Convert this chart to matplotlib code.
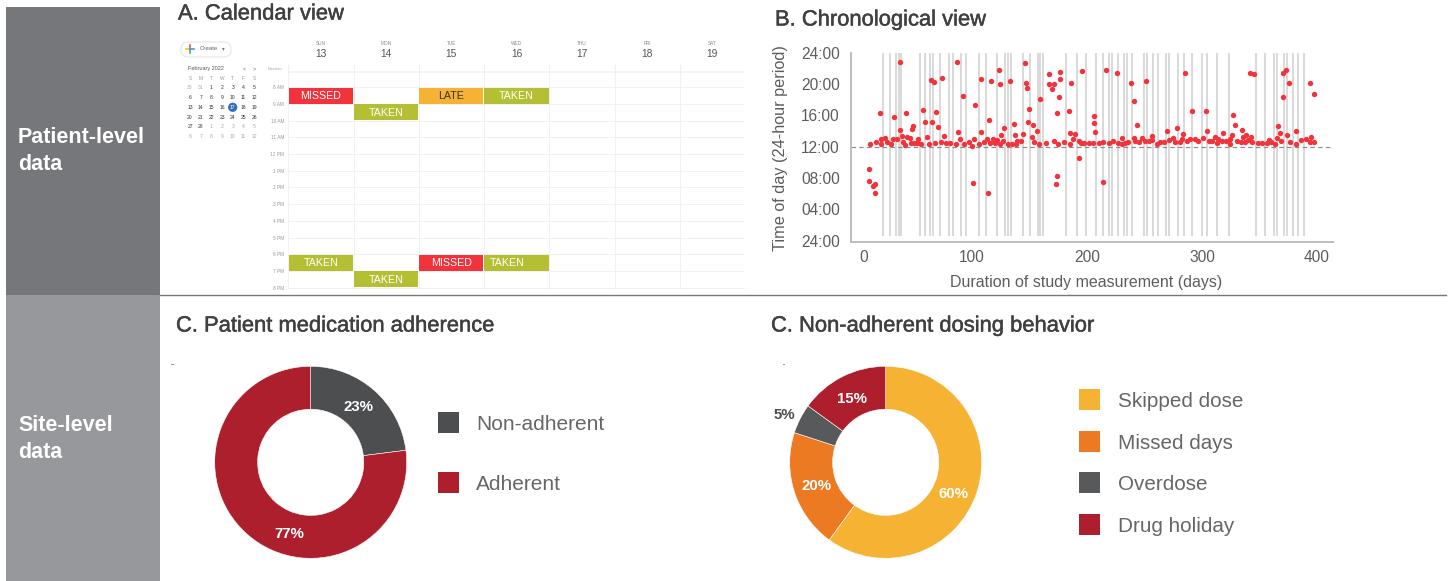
import matplotlib
matplotlib.use('Agg')
import matplotlib.pyplot as plt
import matplotlib.patheffects as pe
from matplotlib.patches import Rectangle, Circle, FancyBboxPatch
from matplotlib.transforms import ScaledTranslation

plt.rcParams['font.family'] = ['Liberation Sans', 'DejaVu Sans']

W, H = 1452, 581

# Calendar view
week_names = ['SUN', 'MON', 'TUE', 'WED', 'THU', 'FRI', 'SAT']
week_dates = [13, 14, 15, 16, 17, 18, 19]
hour_ticks = list(range(8, 21))
hour_names = ['8 AM', '9 AM', '10 AM', '11 AM', '12 PM', '1 PM', '2 PM', '3 PM',
              '4 PM', '5 PM', '6 PM', '7 PM', '8 PM']
event_day = [0, 1, 2, 3, 0, 1, 2, 3]
event_hour = [8, 9, 8, 8, 18, 19, 18, 18]
event_label = ['MISSED', 'TAKEN', 'LATE', 'TAKEN', 'TAKEN', 'TAKEN', 'MISSED', 'TAKEN']
event_status = ['missed', 'taken', 'late', 'taken', 'taken', 'taken', 'missed', 'taken']

# Mini month calendar
month_heads = ['S', 'M', 'T', 'W', 'T', 'F', 'S']
month_weeks = [[30, 31, 1, 2, 3, 4, 5],
               [6, 7, 8, 9, 10, 11, 12],
               [13, 14, 15, 16, 17, 18, 19],
               [20, 21, 22, 23, 24, 25, 26],
               [27, 28, 1, 2, 3, 4, 5],
               [6, 7, 8, 9, 10, 11, 12]]

# Chronological view
dose_day = [10.8, 10.5, 14, 16, 15.4, 11.7, 16.9, 19.8, 20.6, 20.6, 24.1, 25.9, 29.6, 31, 32.5, 35.1,
            37.5, 37.7, 39.2, 39.8, 42.1, 42.7, 43.5, 46.2, 46.7, 48.2, 49, 50, 52, 52.8, 56, 57.2,
            59.2, 60.7, 62.4, 64.1, 65.3, 66.7, 68.2, 69, 70.8, 72.8, 73.7, 76, 77.2, 81.2, 86.2, 87,
            87.6, 89.6, 92.5, 93.1, 97.2, 100, 101, 102.1, 102.7, 105.9, 107.6, 108.2, 110.5, 113.1,
            114.3, 115.2, 115.7, 116.9, 118, 120.4, 121.5, 123.3, 124.1, 124.4, 125.6, 127, 127.6,
            131.4, 133.4, 134.9, 136.3, 137.5, 138.3, 139.5, 142.4, 144.4, 146.2, 146.8, 147.6, 148.8,
            150, 152.3, 153.4, 154, 156.6, 158.3, 159.5, 164.4, 166.8, 167.3, 169.4, 171.1, 171.4,
            173.4, 174.3, 174.3, 174.9, 176, 176.6, 176.6,
            180, 184.3, 184.9, 185.2, 186.4, 187.8, 189.3, 192.7, 193, 194.5, 195.9, 197.7, 201.7,
            205.5, 205.8, 205.8, 207.2, 210.1, 213.6, 214.2, 216.2, 219.1, 222.9, 226.6, 226.4, 230.1,
            230.4, 233.3, 235.6, 238, 240.9, 241.1, 241.4, 243.2, 244.9, 247.5, 250.7, 251, 253.9,
            256.2, 256.5, 260.6, 263.5, 266.7, 269.8, 271.6, 274.5, 276.8, 278.5, 280.6, 282.6, 283.2,
            285.5, 287, 289.6, 291, 293.6, 296.2, 301.2, 303.5, 304.3, 305.8, 309, 311.3, 313.3, 314.2,
            317.1, 318, 320.9, 324.3, 324.3, 325.8, 327, 328.4, 330.4, 333.6, 335.1, 335.7, 337.7, 338,
            340.3, 341.5, 342.6, 343.8, 344.9, 348.7, 352.5, 356.5, 358.3, 360.3, 363.2, 365, 366.4,
            367.5, 368.7, 370.2, 370.2, 372.8, 373.9, 375.7, 376.5, 381.5, 381.7, 385.8, 390.4, 393.6,
            393.6, 395.1, 397.1, 397.4]
dose_hour = [9.15, 7.6, 7.0, 7.2, 6.05, 12.3, 12.6, 16.25, 13.0, 12.4, 13.15, 12.6, 12.35, 13.0, 15.85, 13.0,
             22.85, 14.1, 13.35, 12.65, 12.2, 16.25, 13.3, 13.05, 12.5, 14.3, 14.6, 12.5, 12.5, 12.95, 12.4, 16.7,
             15.15, 13.2, 12.4, 20.55, 15.1, 20.2, 12.45, 16.4, 14.5, 12.65, 20.75, 13.35, 12.45, 12.45, 12.35, 22.85,
             13.85, 12.95, 18.45, 12.4, 12.55, 12.15, 7.4, 12.95, 17.35, 12.4, 13.9, 20.7, 12.55, 13.0,
             6.1, 15.4, 12.5, 20.35, 13.0, 12.5, 12.85, 21.85, 20.0, 12.3, 13.55, 12.75, 14.45,
             12.35, 20.4, 12.35, 14.95, 13.45, 12.35, 12.7, 12.7, 13.65, 22.7, 20.15, 19.45, 15.15,
             16.8, 13.3, 14.75, 12.55, 14.05, 12.35, 18.15, 12.5, 21.25, 20.05, 19.4, 12.75, 20.0,
             7.3, 8.25, 16.25, 12.35, 18.4, 21.5, 20.65,
             12.65, 16.6, 12.3, 13.7, 20.1, 12.95, 13.6, 12.7, 10.55, 12.5, 21.7, 12.45, 12.45,
             12.45, 15.9, 15.05, 13.85, 12.45, 7.55, 12.55, 21.85, 12.5, 12.7, 12.5, 21.45, 12.4,
             13.15, 12.45, 12.55, 20.15, 17.85, 13.15, 12.7, 14.8, 12.65, 13.05, 12.75, 20.4, 12.7,
             12.85, 13.35, 12.4, 12.65, 12.65, 13.95, 12.8, 13.05, 12.6, 14.35, 12.6, 13.0, 13.6,
             21.35, 12.75, 13.0, 16.55, 12.95, 12.7, 13.1, 16.5, 14.0, 12.7, 12.7, 13.25, 12.45, 13.0,
             12.7, 13.7, 12.7, 12.95, 12.3, 13.5, 16.05, 14.8, 12.75, 12.6, 14.1, 13.25, 12.65, 13.5,
             12.8, 21.4, 13.3, 12.6, 21.3, 12.5, 12.5, 12.5, 12.85, 12.6, 12.4, 13.15, 14.7,
             13.75, 12.75, 21.4, 18.4, 21.85, 13.45, 20.15, 12.65, 12.4, 13.95, 12.9, 12.95, 20.15,
             12.65, 13.3, 18.7, 12.65]
gap_days = [22.3, 28.7, 33.9, 36.2, 38.3, 54.8, 58.8, 63.5, 65.8, 72.2, 80, 83.5, 90.7, 94.5, 106.1, 112.2,
            121.5, 129, 131.3, 133.6, 144.4, 150.7, 157.4, 159.4, 161.5, 181.8, 191.3, 199.2,
            207.8, 213.6, 219.1, 221.5, 227, 232.2, 234.5, 238.8, 249.6, 251.9, 257.1, 262, 269, 271.6,
            279.1, 284.4, 291.3, 300, 304.4, 312.8, 323.2, 347.3, 354.8, 362.4, 365.5, 371.3, 373.7,
            378.9, 383.2, 388.7]
chrono_xticks = [0, 100, 200, 300, 400]
chrono_yticks = [0, 4, 8, 12, 16, 20, 24]
chrono_ylabels = ['24:00', '04:00', '08:00', '12:00', '16:00', '20:00', '24:00']

# Site-level donuts
adherence_names = ['Non-adherent', 'Adherent']
adherence_vals = [23, 77]
behavior_names = ['Skipped dose', 'Missed days', 'Overdose', 'Drug holiday']
behavior_vals = [60, 20, 5, 15]

RED = '#f2333b'
OLIVE = '#b5bf33'
AMBER = '#f6b233'
DARK = '#4d4e50'
CRIMSON = '#ad1f2d'
ORANGE = '#ec7a23'
status_color = {'missed': RED, 'taken': OLIVE, 'late': AMBER}


def px_axes(left, top, right, bottom, **kw):
    # axes placed by pixel position, y counted from the top of the image
    return fig.add_axes([left / W, 1 - bottom / H, (right - left) / W, (bottom - top) / H], **kw)


def title(x, y, s):
    page.text(x, y, s, fontsize=15.8, color='#404040', va='center', ha='left',
              path_effects=[pe.withStroke(linewidth=0.35, foreground='#404040')])


def donut(cx, cy, vals, colors):
    r = 96
    ax = px_axes(cx - r, cy - r, cx + r, cy + r)
    ax.pie(vals, colors=colors, startangle=90, counterclock=False, radius=1,
           wedgeprops=dict(width=0.447, edgecolor='white', linewidth=0.4))
    ax.set_xlim(-1, 1)
    ax.set_ylim(-1, 1)
    ax.set_aspect('equal')


fig = plt.figure(figsize=(W / 100, H / 100), dpi=100, facecolor='white')

# whole page in pixels, for the side bands, headings and legends
page = fig.add_axes([0, 0, 1, 1])
page.set_xlim(0, W)
page.set_ylim(H, 0)
page.axis('off')

page.add_patch(Rectangle((6, 7), 154, 288, color='#76777b', lw=0))
page.add_patch(Rectangle((6, 295), 154, 286, color='#97989c', lw=0))
page.plot([160, 1446], [295, 295], color='#777777', lw=1)
page.text(18, 151, 'Patient-level\ndata', color='white', fontsize=15.5, fontweight='bold',
          va='center', linespacing=1.33)
page.text(18, 439, 'Site-level\ndata', color='white', fontsize=15.5, fontweight='bold',
          va='center', linespacing=1.33)

title(178, 14, 'A. Calendar view')
title(775, 20, 'B. Chronological view')
title(176, 326, 'C. Patient medication adherence')
title(771, 326, 'C. Non-adherent dosing behavior')

# Create button and month picker
page.add_patch(FancyBboxPatch((181, 42), 50, 15, boxstyle='round,pad=0,rounding_size=7',
                              mutation_aspect=1, fc='white', ec='#e6e6e6', lw=0.8))
page.plot([190, 190], [45, 49], color='#ea4335', lw=1.1)
page.plot([190, 190], [49, 53], color='#34a853', lw=1.1)
page.plot([186, 190], [49, 49], color='#fbbc05', lw=1.1)
page.plot([190, 194], [49, 49], color='#4285f4', lw=1.1)
page.text(200, 49, 'Create', fontsize=4.4, color='#666666', va='center')
page.text(223, 49, '▾', fontsize=4, color='#777777', va='center', ha='center', family='DejaVu Sans')
page.text(188, 68.5, 'February 2022', fontsize=4, color='#555555', va='center')
page.text(244, 68.5, '<', fontsize=4, color='#666666', va='center', ha='center')
page.text(254, 68.5, '>', fontsize=4, color='#666666', va='center', ha='center')
month_x = [190, 200.7, 211.3, 222, 232.7, 243.3, 254]
month_y = [87.7, 97.7, 107.3, 117.3, 127, 137]
for x, s in zip(month_x, month_heads):
    page.text(x, 78.3, s, fontsize=3.4, color='#999999', ha='center', va='center')
page.add_patch(Circle((232.7, 107.3), 4.6, color='#2f6dbd', lw=0))
in_month = False
for y, week in zip(month_y, month_weeks):
    for x, d in zip(month_x, week):
        if d == 1:
            in_month = not in_month
        col = '#333333' if in_month else '#aaaaaa'
        if d == 17:
            col = 'white'
        page.text(x, y, str(d), fontsize=3.6, color=col, ha='center', va='center')
page.text(275, 68.5, 'Eastern', fontsize=3.2, color='#aaaaaa', ha='center', va='center')

# Week grid
cal = px_axes(288.3, 87.3, 745, 289.3)
cal.set_xlim(0, 7)
cal.set_ylim(20.1, 8)
for s in cal.spines.values():
    s.set_visible(False)
cal.set_xticks([])
cal.set_yticks(hour_ticks)
cal.set_yticklabels(hour_names, fontsize=3.4, color='#999999')
cal.tick_params(axis='y', length=0, pad=3)
cal.hlines(hour_ticks, 0, 7, color='#f1f1f1', lw=0.7, zorder=1)
cal.vlines(range(7), 6.6, 20.1, color='#f1f1f1', lw=0.7, zorder=1, clip_on=False)
cal.hlines(7.11, 0, 7, color='#f3f3f3', lw=1.1, zorder=1, clip_on=False)
for i in range(7):
    cal.text(i + 0.5, 5.37, week_names[i], fontsize=3.4, color='#888888', ha='center', va='center')
    cal.text(i + 0.5, 6.0, str(week_dates[i]), fontsize=7.4, color='#555555', ha='center', va='center')
cal.barh([h + 0.5 for h in event_hour], [0.985] * len(event_day),
         left=[d + 0.005 for d in event_day], height=0.95,
         color=[status_color[s] for s in event_status], zorder=2)
for d, h, lab, st, i in zip(event_day, event_hour, event_label, event_status, range(8)):
    shift = -0.15 if i == 7 else 0
    cal.text(d + 0.5 + shift, h + 0.52, lab, fontsize=7.7, ha='center', va='center', zorder=3,
             color='#333333' if st == 'late' else 'white')

# Chronological scatter
ax = px_axes(851, 52.7, 1333, 241.7)
ax.set_xlim(-5.2, 413.9)
ax.set_ylim(-0.13, 24)
ax.vlines(gap_days, 0.6, 24, color='#d0d0d0', lw=1.1, zorder=1)
ax.axhline(12, color='#888888', lw=0.8, dashes=(4, 3), zorder=1.5)
ax.scatter(dose_day, dose_hour, s=15, color=RED, lw=0, zorder=3)
ax.spines['top'].set_visible(False)
ax.spines['right'].set_visible(False)
ax.spines['left'].set_color('#bdbdbd')
ax.spines['bottom'].set_color('#bdbdbd')
ax.spines['left'].set_linewidth(1.4)
ax.spines['bottom'].set_linewidth(1.4)
ax.set_xticks(chrono_xticks)
ax.set_yticks(chrono_yticks)
ax.set_yticklabels(chrono_ylabels)
ax.tick_params(length=0, labelsize=11.2, labelcolor='#5c5c5c')
ax.tick_params(axis='y', pad=8)
ax.tick_params(axis='x', pad=6)
# the 0 label sits a little right of its position in the original
lab0 = ax.get_xticklabels()[0]
lab0.set_transform(lab0.get_transform() + ScaledTranslation(0.07, 0, fig.dpi_scale_trans))
page.text(1086, 282, 'Duration of study measurement (days)', fontsize=11.5, color='#5c5c5c',
          ha='center', va='center')
page.text(780, 148, 'Time of day (24-hour period)', fontsize=11.7, color='#5c5c5c', rotation=90,
          ha='center', va='center')

# Donuts
donut(310.7, 462.3, adherence_vals, [DARK, CRIMSON])
donut(885.7, 462.3, behavior_vals, [AMBER, ORANGE, '#58595b', CRIMSON])

top = fig.add_axes([0, 0, 1, 1], facecolor='none')
top.set_xlim(0, W)
top.set_ylim(H, 0)
top.axis('off')
for x, y, s, c in [(358.7, 406.7, '23%', 'white'), (289.7, 534, '77%', 'white'),
                   (953.3, 493.7, '60%', 'white'), (816.3, 485.7, '20%', 'white'),
                   (851.7, 398.7, '15%', 'white'), (784, 415, '5%', DARK)]:
    top.text(x, y, s, fontsize=10.8, fontweight='bold', color=c, ha='center', va='center')

# Legends
for y, name, c in zip([412, 472], adherence_names, [DARK, CRIMSON]):
    top.add_patch(Rectangle((438, y), 21, 21, color=c, lw=0))
    top.text(476, y + 12.5, name, fontsize=15, color='#666666', va='center')
for y, name, c in zip([389, 431, 472, 514], behavior_names, [AMBER, ORANGE, '#58595b', CRIMSON]):
    top.add_patch(Rectangle((1079, y), 21, 21, color=c, lw=0))
    top.text(1118, y + 12.5, name, fontsize=14.9, color='#666666', va='center')

# two stray specks in the source image
top.add_patch(Rectangle((171, 364), 3, 1.2, color='#999999', lw=0))
top.add_patch(Rectangle((783, 364), 1.5, 1.2, color='#999999', lw=0))

fig.savefig('out.png', dpi=100, facecolor='white')
